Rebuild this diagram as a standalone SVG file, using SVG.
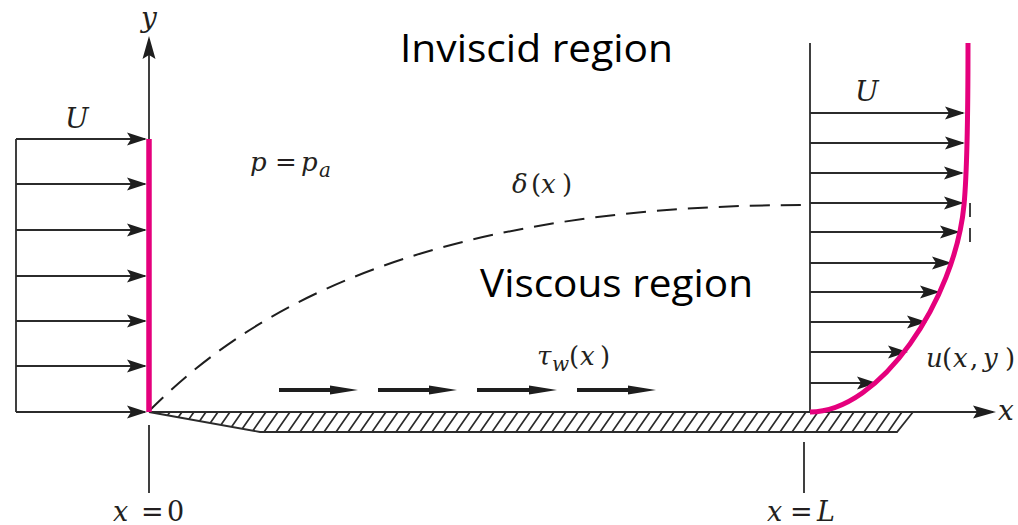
<svg xmlns="http://www.w3.org/2000/svg" width="1018" height="525" viewBox="0 0 1018 525">
<style>
.ln{stroke:#2b2b2b;stroke-width:1.8;fill:none}
.ar{stroke:#2b2b2b;stroke-width:1.8;fill:none;marker-end:url(#ah)}
.mg{stroke:#e5007d;stroke-width:5;fill:none}
.big{font-family:'Open Sans','Liberation Sans',sans-serif;font-size:39px;fill:#000}
.sh{stroke:#1e1e1e;stroke-width:4.2;fill:none}
</style>
<defs>
<marker id="ah" markerUnits="userSpaceOnUse" markerWidth="22" markerHeight="14" refX="18" refY="6.5" orient="auto" overflow="visible">
<path d="M0,0 L20,6.5 L0,13 L4,6.5 Z" fill="#1e1e1e"/>
</marker>
<marker id="ahy" markerUnits="userSpaceOnUse" markerWidth="26" markerHeight="14" refX="20" refY="6.5" orient="auto" overflow="visible">
<path d="M0,0 L23,6.5 L0,13 L4,6.5 Z" fill="#1e1e1e"/>
</marker>
<pattern id="hatch" patternUnits="userSpaceOnUse" x="0" y="412" width="12" height="20">
<path d="M-12,20 L2,0 M0,20 L14,0 M12,20 L26,0" stroke="#2b2b2b" stroke-width="1.7" fill="none"/>
</pattern>
</defs>
<rect width="1018" height="525" fill="#fff"/>

<g id="plate">
<polygon points="149,412 913,412 897,432 260,432" style="fill:url(#hatch);stroke:#2b2b2b;stroke-width:1.8"/>
</g>

<g id="connectors">
<line x1="149" y1="412" x2="993" y2="412" class="ln" style="marker-end:url(#ahy)"/>
<line x1="149" y1="412" x2="149" y2="39" class="ln" style="marker-end:url(#ahy)"/>
<line x1="149" y1="425" x2="149" y2="493" class="ln"/>
<line x1="804" y1="442" x2="804" y2="493" class="ln"/>
<line x1="16" y1="139" x2="16" y2="412" class="ln"/>
<line x1="16" y1="139" x2="145" y2="139" class="ar"/>
<line x1="16" y1="184" x2="145" y2="184" class="ar"/>
<line x1="16" y1="230" x2="145" y2="230" class="ar"/>
<line x1="16" y1="276" x2="145" y2="276" class="ar"/>
<line x1="16" y1="321" x2="145" y2="321" class="ar"/>
<line x1="16" y1="366" x2="145" y2="366" class="ar"/>
<line x1="16" y1="412" x2="145" y2="412" class="ar"/>
<line x1="810" y1="43" x2="810" y2="412" class="ln"/>
<line x1="810" y1="113" x2="963" y2="113" class="ar"/>
<line x1="810" y1="143" x2="963" y2="143" class="ar"/>
<line x1="810" y1="173" x2="962" y2="173" class="ar"/>
<line x1="810" y1="203" x2="962" y2="203" class="ar"/>
<line x1="810" y1="232" x2="958" y2="232" class="ar"/>
<line x1="810" y1="263" x2="950" y2="263" class="ar"/>
<line x1="810" y1="292" x2="938" y2="292" class="ar"/>
<line x1="810" y1="322" x2="925" y2="322" class="ar"/>
<line x1="810" y1="352" x2="906" y2="352" class="ar"/>
<line x1="810" y1="383" x2="875" y2="383" class="ar"/>
<path d="M149,411 C239,321 405,205 805,205" stroke="#1e1e1e" stroke-width="2" fill="none" stroke-dasharray="20,11"/>
<line x1="970" y1="203" x2="970" y2="217" class="ln"/>
<line x1="970" y1="228" x2="970" y2="242" class="ln"/>
<g id="shear">
<line x1="279" y1="390" x2="332" y2="390" class="sh"/><polygon points="358,390 330,385.5 330,394.5" fill="#1e1e1e"/>
<line x1="378" y1="390" x2="431" y2="390" class="sh"/><polygon points="457,390 429,385.5 429,394.5" fill="#1e1e1e"/>
<line x1="477" y1="390" x2="531" y2="390" class="sh"/><polygon points="557,390 529,385.5 529,394.5" fill="#1e1e1e"/>
<line x1="577" y1="390" x2="630" y2="390" class="sh"/><polygon points="656,390 628,385.5 628,394.5" fill="#1e1e1e"/>
</g>
</g>

<g id="leading-profile">
<line x1="149" y1="139" x2="149" y2="412" class="mg" style="stroke-width:5.5"/>
</g>
<g id="velocity-profile">
<path d="M810,412 C880,412 955,300 964,205 C967,173 968,100 968,43" class="mg"/>
</g>

<g id="labels" font-family="'DejaVu Serif', 'Liberation Serif', serif" font-size="26" fill="#231f20">
<text font-style="italic" x="141" y="27" font-size="28">y</text>
<text font-style="italic" x="65" y="128" font-size="28">U</text>
<text font-style="italic" x="855" y="101" font-size="28">U</text>
<text font-style="italic" x="998" y="420" font-size="28">x</text>
<text y="521" font-size="27"><tspan font-style="italic" x="113">x</tspan><tspan x="141">=</tspan><tspan x="167">0</tspan></text>
<text y="521" font-size="27"><tspan font-style="italic" x="767">x</tspan><tspan x="790">=</tspan><tspan font-style="italic" x="817">L</tspan></text>
<text y="171"><tspan font-style="italic" x="250">p</tspan><tspan x="275">=</tspan><tspan font-style="italic" x="301">p</tspan><tspan font-style="italic" x="319" y="177" font-size="20">a</tspan></text>
<text y="193"><tspan font-style="italic" x="512">δ</tspan><tspan x="531">(</tspan><tspan font-style="italic" x="541">x</tspan><tspan x="562">)</tspan></text>
<text y="365"><tspan font-style="italic" x="537">τ</tspan><tspan font-style="italic" x="552" y="371" font-size="20">w</tspan><tspan x="569" y="365">(</tspan><tspan font-style="italic" x="580">x</tspan><tspan x="600">)</tspan></text>
<text y="367"><tspan font-style="italic" x="926">u</tspan><tspan x="942">(</tspan><tspan font-style="italic" x="953">x</tspan><tspan x="970">,</tspan><tspan font-style="italic" x="983">y</tspan><tspan x="1005">)</tspan></text>
</g>
<g id="region-labels">
<text class="big" x="400" y="62" textLength="273" lengthAdjust="spacingAndGlyphs">Inviscid region</text>
<text class="big" x="480" y="297" textLength="273" lengthAdjust="spacingAndGlyphs">Viscous region</text>
</g>
</svg>
